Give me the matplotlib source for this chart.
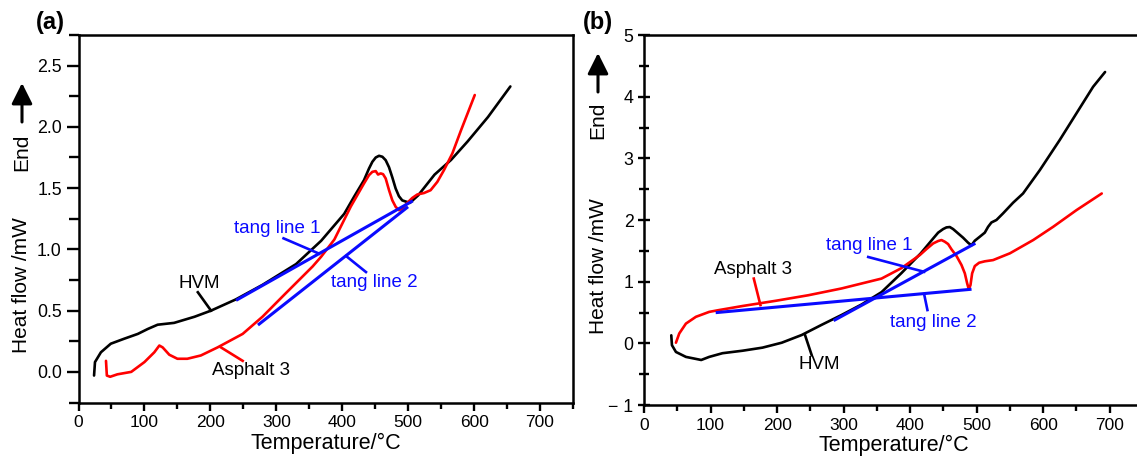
import matplotlib
matplotlib.use("Agg")
import matplotlib.pyplot as plt
from matplotlib.ticker import MultipleLocator, FormatStrFormatter, FuncFormatter
from matplotlib.patches import FancyArrowPatch

plt.rcParams['font.family'] = ['Liberation Sans', 'DejaVu Sans']

# ---------------- panel (a) data ----------------
a_hvm_T = [23.6, 25, 34, 49, 69, 90, 105, 120, 145, 176, 201, 238, 279, 330, 368,
           403, 418, 433, 440.6, 445.7, 450.8, 455.8, 460.9, 465.9, 471, 476, 481,
           486, 491, 497.7, 502.7, 515, 540, 565, 590, 621, 655]
a_hvm_Q = [-0.03, 0.08, 0.16, 0.23, 0.27, 0.31, 0.35, 0.385, 0.40, 0.45, 0.50,
           0.59, 0.71, 0.88, 1.07, 1.29, 1.43, 1.565, 1.66, 1.715, 1.75, 1.764,
           1.756, 1.728, 1.67, 1.587, 1.497, 1.434, 1.40, 1.388, 1.38, 1.44, 1.61,
           1.73, 1.88, 2.08, 2.33]
a_asp_T = [41.7, 43, 48, 59, 80, 100, 115, 122.6, 127.6, 137.7, 150, 165, 185.6,
           211, 249, 279, 314, 355, 368, 388, 413, 433, 440.6, 445.7, 450.8, 454.3,
           458.3, 461.9, 465.9, 471, 476, 481.1, 486.1, 491.2, 498.7, 506.3, 513.9,
           524, 534, 544.2, 554.3, 567, 580, 601]
a_asp_Q = [0.09, -0.03, -0.04, -0.02, 0.0, 0.08, 0.16, 0.215, 0.20, 0.14, 0.107,
           0.107, 0.134, 0.20, 0.31, 0.45, 0.64, 0.86, 0.94, 1.08, 1.35, 1.538,
           1.606, 1.633, 1.639, 1.611, 1.62, 1.614, 1.579, 1.483, 1.40, 1.347, 1.32,
           1.333, 1.38, 1.42, 1.448, 1.46, 1.483, 1.551, 1.647, 1.783, 1.97, 2.26]
a_tang1_T = [241, 505]
a_tang1_Q = [0.59, 1.39]
a_tang2_T = [274, 498]
a_tang2_Q = [0.39, 1.34]

# ---------------- panel (b) data ----------------
b_hvm_T = [41, 42, 48, 63, 86, 98, 118, 148, 178, 207, 237, 267, 297, 327, 357,
           387, 416, 434.6, 442.1, 449.6, 454.6, 459.6, 464.6, 472.1, 479.6, 487.1,
           492.1, 497.2, 504.7, 512.2, 517.2, 522.2, 529.7, 539.7, 554.7, 569.7,
           595, 625, 650, 675, 693]
b_hvm_Q = [0.13, -0.03, -0.14, -0.22, -0.27, -0.22, -0.16, -0.12, -0.07, 0.01,
           0.135, 0.30, 0.46, 0.63, 0.83, 1.14, 1.46, 1.70, 1.795, 1.853, 1.88,
           1.886, 1.853, 1.783, 1.713, 1.632, 1.589, 1.664, 1.729, 1.795, 1.89,
           1.96, 2.0, 2.108, 2.28, 2.43, 2.81, 3.30, 3.73, 4.16, 4.40]
b_asp_T = [48, 53, 63, 78, 98, 113, 148, 198, 247, 297, 327, 357, 387, 414.6,
           424.6, 434.6, 442.1, 447.1, 452.1, 457.1, 462.2, 469.7, 477.2, 482.2,
           485.7, 488.2, 490.7, 493.2, 497.2, 503.7, 512.2, 524.7, 550, 585, 615,
           650, 688]
b_asp_Q = [0.01, 0.16, 0.32, 0.43, 0.51, 0.54, 0.605, 0.69, 0.78, 0.89, 0.97,
           1.05, 1.22, 1.432, 1.529, 1.62, 1.659, 1.675, 1.648, 1.61, 1.524, 1.416,
           1.27, 1.135, 0.973, 0.876, 0.945, 1.135, 1.253, 1.307, 1.33, 1.35, 1.46,
           1.675, 1.89, 2.16, 2.43]
b_tang1_T = [287, 496]
b_tang1_Q = [0.38, 1.61]
b_tang2_T = [110, 490]
b_tang2_Q = [0.50, 0.875]

W, H = 1137, 461
fig = plt.figure(figsize=(W / 100, H / 100), dpi=100)


def px_axes(left, right, top, bottom):
    return fig.add_axes([left / W, 1 - bottom / H, (right - left) / W, (bottom - top) / H])


ax_a = px_axes(78.5, 573, 35, 402.5)
ax_b = px_axes(644, 1143, 35, 405)

BLUE = '#0a0aff'
RED = '#ff0000'
TXT = 13.5
LW_CURVE = 1.9
LW_TANG = 2.2
LW_LEAD = 1.9


def style(ax, ylim, ymaj, ymin, ydir):
    ax.set_xlim(0, 750)
    ax.set_ylim(*ylim)
    ax.xaxis.set_major_locator(MultipleLocator(100))
    ax.xaxis.set_minor_locator(MultipleLocator(50))
    ax.yaxis.set_major_locator(MultipleLocator(ymaj))
    ax.yaxis.set_minor_locator(MultipleLocator(ymin))
    for s in ax.spines.values():
        s.set_linewidth(1.8)
    ax.tick_params(axis='x', which='both', direction='out', top=False, width=1.7,
                   labelsize=12.5, pad=3)
    ax.tick_params(axis='x', which='major', length=6)
    ax.tick_params(axis='x', which='minor', length=4)
    ax.tick_params(axis='y', which='both', direction=ydir, right=False, width=1.7,
                   labelsize=12.8, pad=3)
    ax.tick_params(axis='y', which='major', length=9)
    ax.tick_params(axis='y', which='minor', length=7)
    ax.set_xlabel('Temperature/°C', fontsize=15.5, labelpad=2)


# ---- panel (a)
style(ax_a, (-0.25, 2.75), 0.5, 0.25, 'out')
ax_a.yaxis.set_major_formatter(FormatStrFormatter('%.1f'))
ax_a.plot(a_hvm_T, a_hvm_Q, color='black', lw=LW_CURVE, solid_capstyle='round',
          solid_joinstyle='round')
ax_a.plot(a_asp_T, a_asp_Q, color=RED, lw=LW_CURVE, solid_capstyle='round',
          solid_joinstyle='round')
ax_a.plot(a_tang1_T, a_tang1_Q, color=BLUE, lw=LW_TANG)
ax_a.plot(a_tang2_T, a_tang2_Q, color=BLUE, lw=LW_TANG)
ax_a.plot([311, 365], [1.09, 0.965], color=BLUE, lw=LW_LEAD)
ax_a.text(301, 1.17, 'tang line 1', color=BLUE, fontsize=TXT, ha='center', va='center')
ax_a.plot([436, 406], [0.815, 0.945], color=BLUE, lw=LW_LEAD)
ax_a.text(448, 0.73, 'tang line 2', color=BLUE, fontsize=TXT, ha='center', va='center')
ax_a.plot([181, 201], [0.65, 0.50], color='black', lw=LW_LEAD)
ax_a.text(183, 0.72, 'HVM', color='black', fontsize=TXT, ha='center', va='center')
ax_a.plot([249, 216], [0.09, 0.20], color=RED, lw=LW_LEAD)
ax_a.text(262, 0.01, 'Asphalt 3', color='black', fontsize=TXT, ha='center', va='center')

# ---- panel (b)
style(ax_b, (-1, 5), 1, 0.5, 'inout')
ax_b.yaxis.set_major_formatter(FuncFormatter(
    lambda v, p: ('\u2212 ' + str(int(round(-v)))) if v < 0 else str(int(round(v)))))
ax_b.plot(b_hvm_T, b_hvm_Q, color='black', lw=LW_CURVE, solid_capstyle='round',
          solid_joinstyle='round')
ax_b.plot(b_asp_T, b_asp_Q, color=RED, lw=LW_CURVE, solid_capstyle='round',
          solid_joinstyle='round')
ax_b.plot(b_tang1_T, b_tang1_Q, color=BLUE, lw=LW_TANG)
ax_b.plot(b_tang2_T, b_tang2_Q, color=BLUE, lw=LW_TANG)
ax_b.plot([337, 421], [1.40, 1.16], color=BLUE, lw=LW_LEAD)
ax_b.text(339, 1.59, 'tang line 1', color=BLUE, fontsize=TXT, ha='center', va='center')
ax_b.plot([426, 421], [0.54, 0.80], color=BLUE, lw=LW_LEAD)
ax_b.text(435, 0.345, 'tang line 2', color=BLUE, fontsize=TXT, ha='center', va='center')
ax_b.plot([165, 175], [1.05, 0.62], color=RED, lw=LW_LEAD)
ax_b.text(164, 1.19, 'Asphalt 3', color='black', fontsize=TXT, ha='center', va='center')
ax_b.plot([252, 242], [-0.19, 0.135], color='black', lw=LW_LEAD)
ax_b.text(264, -0.35, 'HVM', color='black', fontsize=TXT, ha='center', va='center')


# ---- side labels, "End" arrows and panel letters (figure pixel positions)
def fx(x):
    return x / W


def fy(y):
    return 1 - y / H


for x, yl, ye, ya0, ya1 in [(22, 285, 152, 122, 83), (598, 266, 120, 92, 53)]:
    fig.text(fx(x), fy(yl), 'Heat flow /mW', rotation=90, fontsize=15,
             ha='center', va='center')
    fig.text(fx(x), fy(ye), 'End', rotation=90, fontsize=15, ha='center', va='center')
    fig.add_artist(FancyArrowPatch(
        (fx(x), fy(ya0)), (fx(x), fy(ya1)), transform=fig.transFigure,
        arrowstyle='-|>,head_length=0.9,head_width=0.45', mutation_scale=14,
        color='black', lw=2.2, shrinkA=0, shrinkB=0))

fig.text(fx(50), fy(22), '(a)', fontsize=17, fontweight='bold', ha='center', va='center')
fig.text(fx(598), fy(22), '(b)', fontsize=17, fontweight='bold', ha='center', va='center')

fig.savefig('out.png', dpi=100)
